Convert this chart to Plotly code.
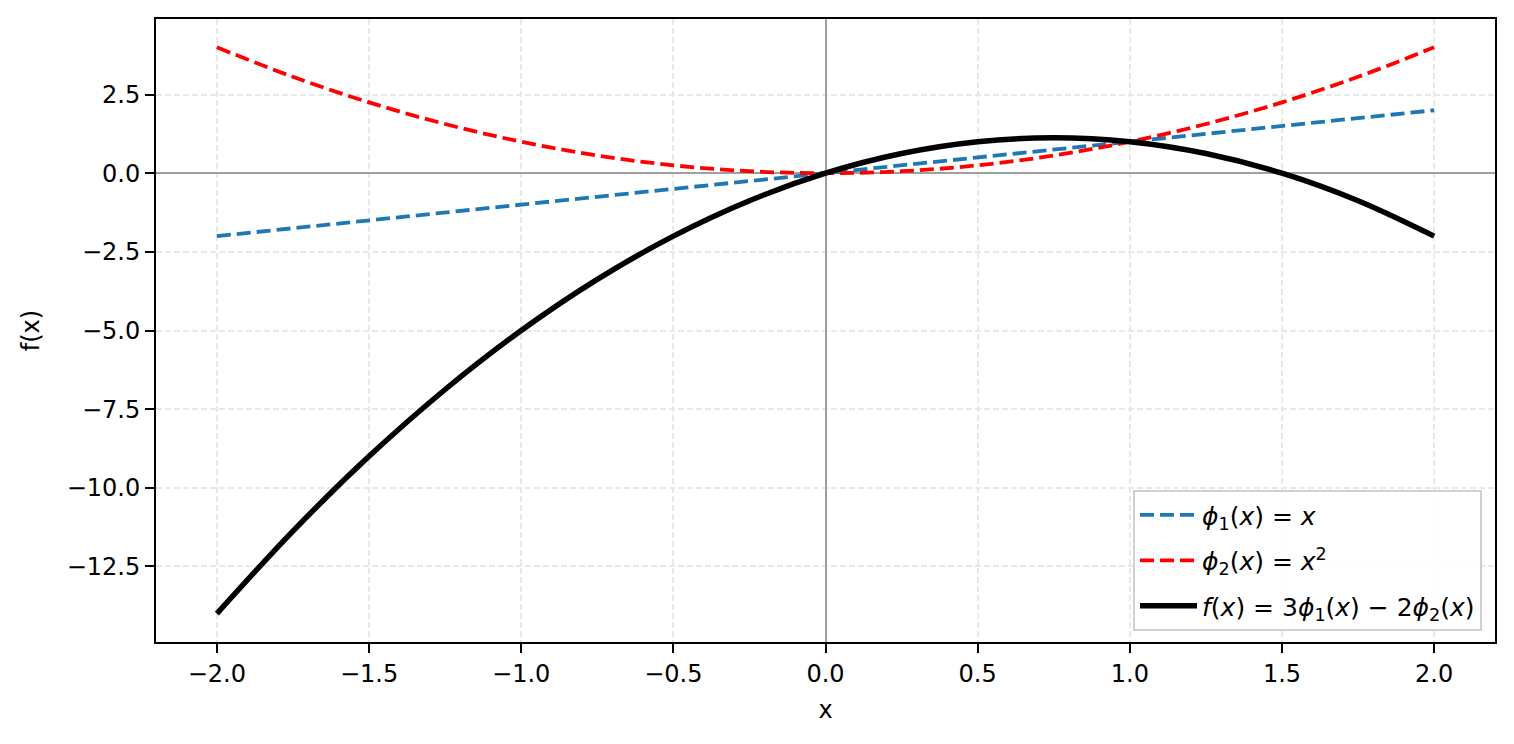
import plotly.graph_objects as go

x_vals = [-2.0, -1.75, -1.5, -1.25, -1.0, -0.75, -0.5, -0.25, 0.0,
          0.25, 0.5, 0.75, 1.0, 1.25, 1.5, 1.75, 2.0]
phi1_vals = [-2.0, -1.75, -1.5, -1.25, -1.0, -0.75, -0.5, -0.25, 0.0,
             0.25, 0.5, 0.75, 1.0, 1.25, 1.5, 1.75, 2.0]
phi2_vals = [4.0, 3.0625, 2.25, 1.5625, 1.0, 0.5625, 0.25, 0.0625, 0.0,
             0.0625, 0.25, 0.5625, 1.0, 1.5625, 2.25, 3.0625, 4.0]
f_vals = [-14.0, -11.375, -9.0, -6.875, -5.0, -3.375, -2.0, -0.875, 0.0,
          0.625, 1.0, 1.125, 1.0, 0.625, 0.0, -0.875, -2.0]

x_ticks = [-2.0, -1.5, -1.0, -0.5, 0.0, 0.5, 1.0, 1.5, 2.0]
x_tick_labels = ["\u22122.0", "\u22121.5", "\u22121.0", "\u22120.5", "0.0", "0.5", "1.0", "1.5", "2.0"]
y_ticks = [2.5, 0.0, -2.5, -5.0, -7.5, -10.0, -12.5]
y_tick_labels = ["2.5", "0.0", "\u22122.5", "\u22125.0", "\u22127.5", "\u221210.0", "\u221212.5"]

names = [
    "<i>\u03d5</i><sub>1</sub>(<i>x</i>) = <i>x</i>",
    "<i>\u03d5</i><sub>2</sub>(<i>x</i>) = <i>x</i><sup>2</sup>",
    "<i>f</i>(<i>x</i>) = 3<i>\u03d5</i><sub>1</sub>(<i>x</i>) \u2212 2<i>\u03d5</i><sub>2</sub>(<i>x</i>)",
]

FONT = "DejaVu Sans"
FS = 24
fig = go.Figure()
fig.add_trace(go.Scatter(x=x_vals, y=phi1_vals, mode="lines", name=names[0], legendgroup="a",
                         line=dict(color="#1f77b4", width=3.8, dash="14px,6px")))
fig.add_trace(go.Scatter(x=x_vals, y=phi2_vals, mode="lines", name=names[1], legendgroup="b",
                         line_shape="spline",
                         line=dict(color="#ff0000", width=3.8, dash="14px,6px")))
fig.add_trace(go.Scatter(x=x_vals, y=f_vals, mode="lines", name=names[2], legendgroup="c",
                         line_shape="spline",
                         line=dict(color="#000000", width=5.5)))

axis_common = dict(
    showline=True, linecolor="black", linewidth=2, mirror=True,
    ticks="outside", ticklen=9, tickwidth=2, tickcolor="black",
    showgrid=True, gridcolor="#e8e8e8", griddash="6px,3px", gridwidth=1.6,
    zeroline=True, zerolinecolor="#a0a0a0", zerolinewidth=1.5,
    tickfont=dict(family=FONT, size=FS, color="black"),
    title_font=dict(family=FONT, size=FS, color="black"),
)

fig.update_layout(
    width=1498, height=728,
    margin=dict(l=148, r=11, t=9, b=94),
    paper_bgcolor="white", plot_bgcolor="white",
    font=dict(family=FONT, size=FS, color="black"),
    xaxis=dict(range=[-2.2, 2.2], tickvals=x_ticks, ticktext=x_tick_labels,
               title=dict(text="x", standoff=14), **axis_common),
    yaxis=dict(range=[-14.9, 4.9], tickvals=y_ticks, ticktext=y_tick_labels,
               title=dict(text="f(x)", standoff=20), **axis_common),
    legend=dict(x=0.9903, y=0.0176, xanchor="right", yanchor="bottom",
                bgcolor="rgba(255,255,255,0.85)", bordercolor="#d0d0d0", borderwidth=2,
                font=dict(family=FONT, size=25, color="black"),
                itemwidth=57, tracegroupgap=10),
    showlegend=True,
)

fig.write_html("out.html")
